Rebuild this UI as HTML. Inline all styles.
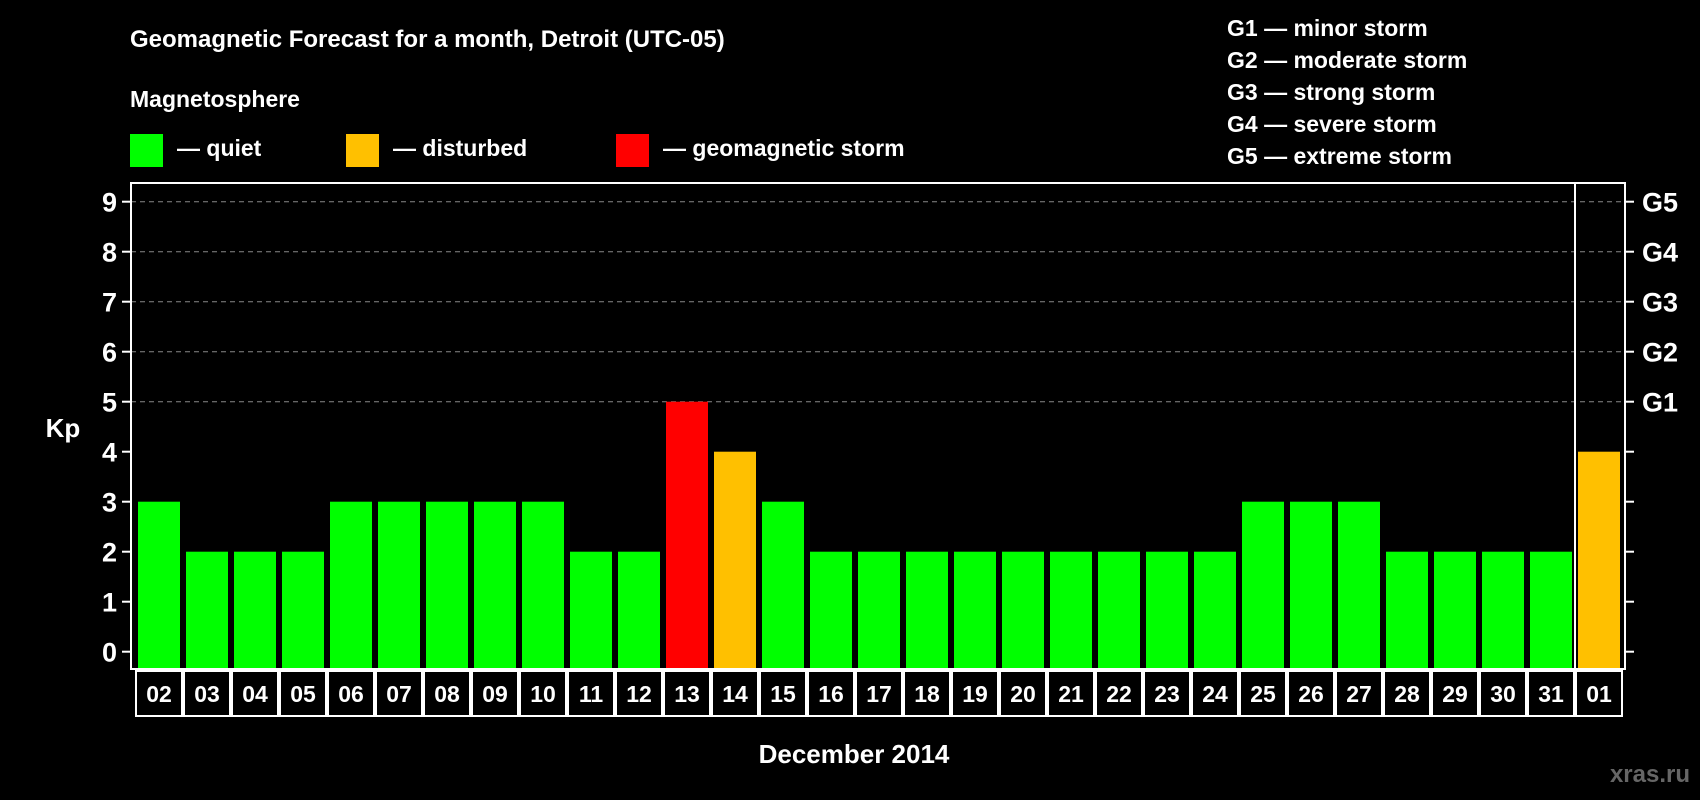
<!DOCTYPE html>
<html><head><meta charset="utf-8"><style>
html,body{margin:0;padding:0;background:#000;}
svg{display:block;font-family:"Liberation Sans",sans-serif;font-weight:bold;}
</style></head><body>
<svg id="chart" width="1700" height="800" viewBox="0 0 1700 800">
<rect width="1700" height="800" fill="#000"/>
<text x="130" y="47" fill="#fff" font-size="24">Geomagnetic Forecast for a month, Detroit (UTC-05)</text>
<text x="130" y="107" fill="#fff" font-size="23">Magnetosphere</text>
<g><rect x="130" y="134" width="33" height="33" fill="#00ff00"/><text x="177" y="156" fill="#fff" font-size="23">— quiet</text></g>
<g><rect x="346" y="134" width="33" height="33" fill="#ffc000"/><text x="393" y="156" fill="#fff" font-size="23">— disturbed</text></g>
<g><rect x="616" y="134" width="33" height="33" fill="#ff0000"/><text x="663" y="156" fill="#fff" font-size="23">— geomagnetic storm</text></g>
<g fill="#fff" font-size="23">
<text x="1227" y="36">G1 — minor storm</text>
<text x="1227" y="68">G2 — moderate storm</text>
<text x="1227" y="100">G3 — strong storm</text>
<text x="1227" y="132">G4 — severe storm</text>
<text x="1227" y="164">G5 — extreme storm</text>
</g>
<text x="63" y="437" fill="#fff" font-size="26" text-anchor="middle">Kp</text>
<text x="854" y="763" fill="#fff" font-size="26" text-anchor="middle">December 2014</text>
<text x="1690" y="782" fill="#666" font-size="24" text-anchor="end">xras.ru</text>
<g id="grid"></g><g id="bars"></g><g id="axes"></g>
</svg>
<script>
const days=["02","03","04","05","06","07","08","09","10","11","12","13","14","15","16","17","18","19","20","21","22","23","24","25","26","27","28","29","30","31","01"];
const kp=[3,2,2,2,3,3,3,3,3,2,2,5,4,3,2,2,2,2,2,2,2,2,2,3,3,3,2,2,2,2,4];
const yTicks=[0,1,2,3,4,5,6,7,8,9];
const gLabels=["G1","G2","G3","G4","G5"];
const NS="http://www.w3.org/2000/svg";
const L=131,R=1625,T=183,B=669,X0=135,P=48;
const y=v=>651.7-v*50;
const x=i=>X0+i*P;
function mk(t,a,p){const e=document.createElementNS(NS,t);for(const k in a)e.setAttribute(k,a[k]);p.appendChild(e);return e;}
const grid=document.getElementById('grid'),bars=document.getElementById('bars'),axes=document.getElementById('axes');
yTicks.forEach(v=>{
 if(v>=5){const g=mk('line',{x1:L,x2:R,y1:y(v),y2:y(v),stroke:'#888','stroke-dasharray':'5,4','stroke-width':1},grid);
 
 }
 mk('line',{x1:L-9,x2:L,y1:y(v),y2:y(v),stroke:'#fff','stroke-width':2},axes);
 mk('line',{x1:R,x2:R+9,y1:y(v),y2:y(v),stroke:'#fff','stroke-width':2},axes);
 const t=mk('text',{x:L-14,y:y(v)+10,fill:'#fff','font-size':27,'text-anchor':'end'},axes);t.textContent=v;
 
 
});
gLabels.forEach((g,i)=>{const t=mk('text',{x:R+17,y:y(5+i)+10,fill:'#fff','font-size':27},axes);t.textContent=g;
 
 });
kp.forEach((v,i)=>{
 const c=v>=5?'#ff0000':(v>=4?'#ffc000':'#00ff00');
 const r=mk('rect',{x:x(i)+3,y:y(v),width:42,height:668-y(v),fill:c},bars);
 
 
 const b=mk('rect',{x:x(i)+1,y:671,width:P-2,height:45,fill:'none',stroke:'#fff','stroke-width':2},axes);
 const t=mk('text',{x:x(i)+P/2,y:702,fill:'#fff','font-size':23,'text-anchor':'middle'},axes);t.textContent=days[i];
 
 
});
mk('rect',{x:L,y:T,width:R-L,height:B-T,fill:'none',stroke:'#fff','stroke-width':2},axes);
mk('line',{x1:x(30),x2:x(30),y1:T,y2:B,stroke:'#fff','stroke-width':2},axes);
</script>
</body></html>
